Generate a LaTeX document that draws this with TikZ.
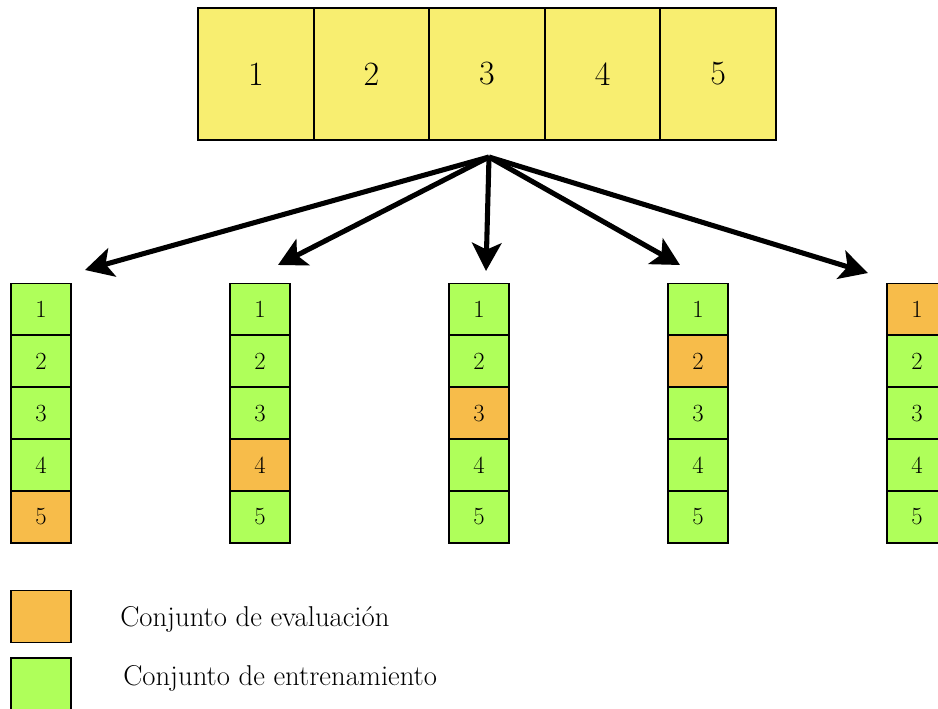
\documentclass[tikz,border=0pt]{standalone}
\usetikzlibrary{arrows.meta}
\definecolor{topyellow}{RGB}{248,238,112}
\definecolor{traingreen}{RGB}{175,255,90}
\definecolor{evalorange}{RGB}{247,188,74}
\tikzset{
  bigcell/.style={draw, line width=1.4pt, fill=topyellow, minimum width=86.7pt, minimum height=99pt, inner sep=0pt, font=\fontsize{25.5}{30}\selectfont},
  cell/.style={draw, line width=1.4pt, fill=traingreen, minimum width=44.5pt, minimum height=39pt, inner sep=0pt, font=\fontsize{18.5}{22}\selectfont},
  evalcell/.style={cell, fill=evalorange},
  fold/.style={line width=3.8pt, -{Stealth[length=21pt, width=22pt, inset=5pt]}},
  legendtext/.style={anchor=west, inner sep=0pt, font=\fontsize{21.5}{26}\selectfont}
}
\begin{document}
\begin{tikzpicture}[x=0.75pt, y=-0.75pt]
\useasboundingbox (0,0) rectangle (938,709);
% top row
\foreach \i in {1,...,5} {
  \node[bigcell] (t\i) at ({198+115.6*(\i-0.5)}, 74) {\i};
}
% origin of arrows
\coordinate (o) at (489,157);
\coordinate (a1) at (85,270);
\coordinate (a2) at (278,265);
\coordinate (a3) at (486,271);
\coordinate (a4) at (680,265);
\coordinate (a5) at (868,273);
\foreach \k in {1,...,5} { \draw[fold] (o) -- (a\k); }
% columns
\foreach \c/\e in {1/5,2/4,3/3,4/2,5/1} {
  \foreach \r in {1,...,5} {
    \ifnum\r=\e
      \node[evalcell] (c\c-\r) at ({41+219*(\c-1)}, {309.5+51.8*(\r-1)}) {\r};
    \else
      \node[cell] (c\c-\r) at ({41+219*(\c-1)}, {309.5+51.8*(\r-1)}) {\r};
    \fi
  }
}
% legend
\node[evalcell] (legE) at (41,616.5) {};
\node[cell] (legT) at (41,684) {};
\node[legendtext] (legEt) at (120,619) {Conjunto de evaluación};
\node[legendtext] (legTt) at (123,678) {Conjunto de entrenamiento};
\end{tikzpicture}
\end{document}
